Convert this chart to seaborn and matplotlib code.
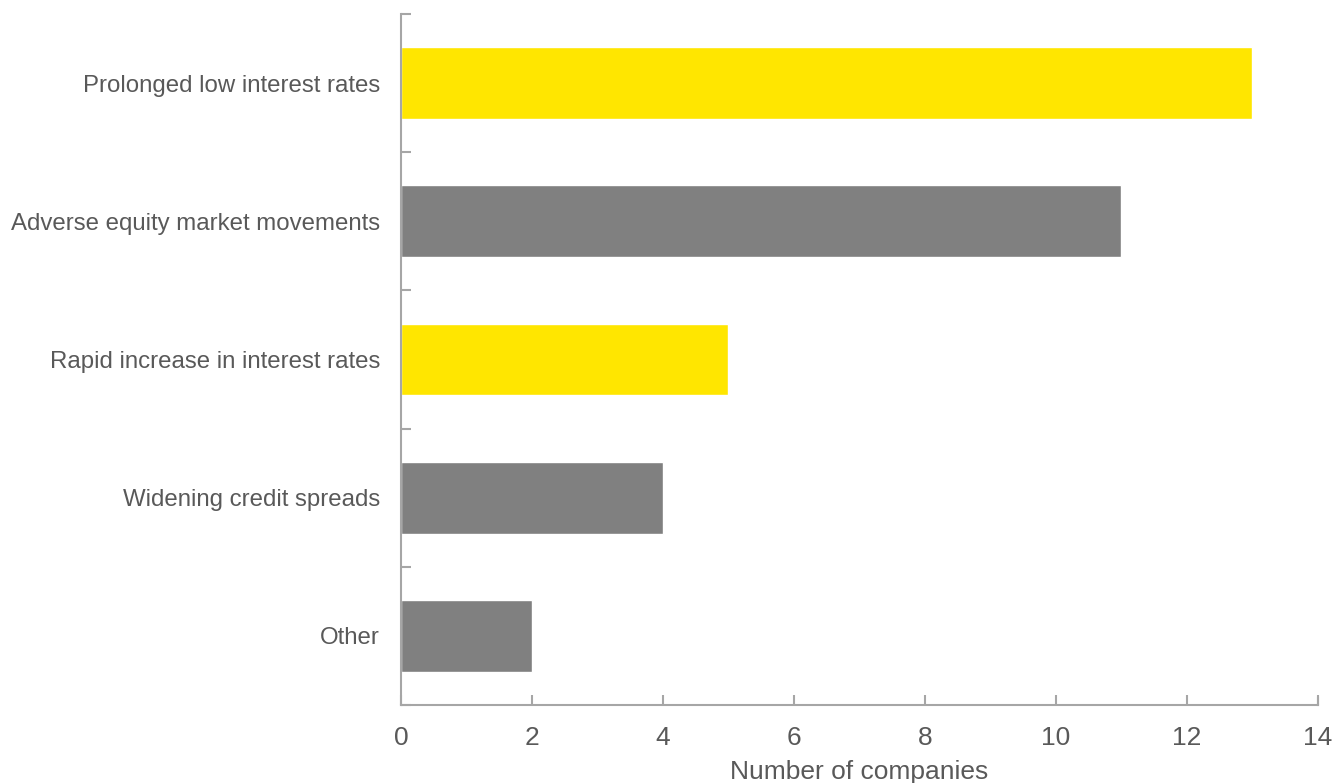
"""Horizontal bar chart: market risk concerns by number of companies"""

import pandas as pd
import seaborn as sns
import matplotlib.pyplot as plt
from matplotlib.ticker import FixedLocator

categories = ['Prolonged low interest rates',
              'Adverse equity market movements',
              'Rapid increase in interest rates',
              'Widening credit spreads',
              'Other']
companies = [13, 11, 5, 4, 2]
bar_colors = ['#FFE600', '#808080', '#FFE600', '#808080', '#808080']
xticks = [0, 2, 4, 6, 8, 10, 12, 14]

sns.set_theme(style='white')
plt.rcParams['font.family'] = ['Liberation Sans', 'DejaVu Sans']

axis_grey = '#A6A6A6'
text_grey = '#595959'

df = pd.DataFrame({'risk': categories, 'n': companies})

fig = plt.figure(figsize=(13.34, 7.83), dpi=100)
ax = fig.add_axes([0.3006, 0.0996, 0.988 - 0.3006, 0.9821 - 0.0996])

sns.barplot(data=df, ax=ax, y='risk', x='n', hue='risk', palette=bar_colors,
            orient='h', width=0.52, legend=False, saturation=1)

ax.set_xlim(0, 14)
ax.set_ylim(len(categories) - 0.5, -0.5)
ax.set_xticks(xticks)
ax.set_xticklabels([str(t) for t in xticks], fontsize=19, color=text_grey)
ax.set_yticks(range(len(categories)))
ax.set_yticklabels(categories, fontsize=17.3, color=text_grey)
ax.yaxis.set_minor_locator(FixedLocator([i - 0.5 for i in range(len(categories) + 1)]))

ax.tick_params(axis='y', which='major', length=0, pad=15)
ax.tick_params(axis='y', which='minor', direction='in', length=7, width=1.5, color=axis_grey, left=True)
ax.tick_params(axis='x', which='major', direction='in', length=7, width=1.5, color=axis_grey, bottom=True, pad=15)

ax.spines['top'].set_visible(False)
for side in ['left', 'bottom', 'right']:
    ax.spines[side].set_color(axis_grey)
    ax.spines[side].set_linewidth(1.5)
ax.spines['right'].set_bounds(len(categories) - 0.5, len(categories) - 0.5 - 0.05)

ax.set_ylabel('')
ax.set_xlabel('Number of companies', fontsize=19, color=text_grey, labelpad=7.5)

plt.savefig('out.png', dpi=100)
